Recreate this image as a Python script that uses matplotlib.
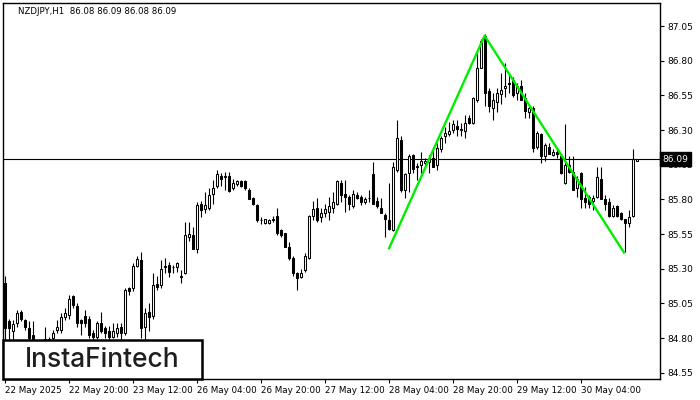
import matplotlib
matplotlib.use("Agg")
import matplotlib.pyplot as plt
from matplotlib.patches import Rectangle
from matplotlib.transforms import blended_transform_factory
import numpy as np

title_text = "NZDJPY,H1  86.08 86.09 86.08 86.09"

opens = [85.20, 84.92, 84.85, 84.91, 84.99, 84.93, 84.87, 84.82, 84.75, 84.73,
         84.71, 84.77, 84.80, 84.86, 84.86, 84.95, 84.97, 85.10, 85.03, 84.93,
         84.96, 84.94, 84.84, 84.81, 84.91, 84.87, 84.85, 84.81, 84.84, 84.88,
         84.84, 85.16, 85.16, 85.32, 85.36, 84.88, 84.99, 84.96, 85.19, 85.18,
         85.32, 85.33, 85.31, 85.31, 85.25, 85.27, 85.53, 85.54, 85.44, 85.77,
         85.73, 85.74, 85.84, 85.90, 85.97, 85.96, 85.97, 85.88, 85.91, 85.93,
         85.93, 85.87, 85.81, 85.76, 85.65, 85.63, 85.63, 85.65, 85.68, 85.58,
         85.56, 85.46, 85.38, 85.27, 85.24, 85.29, 85.38, 85.68, 85.74, 85.67,
         85.70, 85.71, 85.74, 85.77, 85.92, 85.84, 85.82, 85.75, 85.83, 85.82,
         85.78, 85.81, 85.98, 85.79, 85.74, 85.69, 85.65, 85.58, 86.01, 86.23,
         85.87, 85.99, 86.12, 86.04, 86.05, 86.06, 86.07, 86.10, 86.05, 86.16,
         86.26, 86.27, 86.30, 86.33, 86.30, 86.29, 86.39, 86.35, 86.52, 86.75,
         86.98, 86.58, 86.46, 86.50, 86.56, 86.60, 86.64, 86.66, 86.57, 86.62,
         86.53, 86.43, 86.46, 86.18, 86.27, 86.11, 86.18, 86.12, 86.14, 86.11,
         85.92, 86.05, 86.00, 85.88, 85.99, 85.81, 85.82, 85.79, 85.82, 85.95,
         85.80, 85.78, 85.68, 85.75, 85.70, 85.66, 85.63, 85.68, 86.08]

highs = [85.25, 84.94, 84.93, 85.00, 85.00, 84.94, 84.92, 84.92, 84.77, 84.78,
         84.88, 84.81, 84.86, 84.93, 84.98, 85.02, 85.11, 85.11, 85.05, 84.94,
         85.00, 84.96, 84.86, 84.92, 84.99, 84.89, 84.89, 84.91, 84.91, 84.91,
         85.16, 85.17, 85.34, 85.39, 85.42, 85.02, 85.05, 85.27, 85.25, 85.36,
         85.38, 85.35, 85.33, 85.35, 85.29, 85.64, 85.64, 85.60, 85.78, 85.79,
         85.85, 85.88, 85.94, 86.01, 85.99, 86.00, 86.00, 85.95, 85.94, 85.94,
         85.94, 85.88, 85.82, 85.77, 85.67, 85.66, 85.66, 85.68, 85.74, 85.59,
         85.56, 85.49, 85.39, 85.28, 85.30, 85.41, 85.69, 85.79, 85.81, 85.74,
         85.77, 85.82, 85.85, 85.94, 85.94, 85.94, 85.83, 85.87, 85.85, 85.83,
         85.82, 85.87, 86.07, 85.82, 85.81, 85.70, 85.92, 86.07, 86.37, 86.26,
         85.99, 86.13, 86.13, 86.06, 86.14, 86.10, 86.12, 86.18, 86.21, 86.26,
         86.32, 86.36, 86.37, 86.37, 86.35, 86.41, 86.41, 86.54, 86.88, 86.96,
         86.99, 86.60, 86.57, 86.60, 86.71, 86.78, 86.71, 86.68, 86.64, 86.66,
         86.57, 86.48, 86.47, 86.29, 86.28, 86.21, 86.21, 86.16, 86.17, 86.13,
         86.34, 86.11, 86.11, 85.97, 86.00, 85.89, 85.83, 85.83, 86.03, 86.03,
         85.83, 85.81, 85.76, 85.76, 85.71, 85.66, 85.72, 86.16, 86.09]

lows = [84.75, 84.75, 84.79, 84.88, 84.92, 84.86, 84.75, 84.71, 84.68, 84.70,
        84.68, 84.73, 84.77, 84.84, 84.84, 84.93, 84.94, 85.02, 84.88, 84.82,
        84.88, 84.80, 84.79, 84.79, 84.84, 84.80, 84.79, 84.80, 84.81, 84.79,
        84.82, 85.11, 85.14, 85.31, 84.80, 84.79, 84.85, 84.94, 85.15, 85.16,
        85.27, 85.24, 85.27, 85.28, 85.20, 85.26, 85.50, 85.44, 85.41, 85.67,
        85.70, 85.72, 85.77, 85.88, 85.90, 85.87, 85.85, 85.87, 85.90, 85.89,
        85.87, 85.80, 85.76, 85.64, 85.62, 85.62, 85.62, 85.64, 85.54, 85.53,
        85.46, 85.36, 85.25, 85.15, 85.23, 85.28, 85.37, 85.65, 85.64, 85.64,
        85.67, 85.65, 85.70, 85.76, 85.78, 85.71, 85.72, 85.74, 85.80, 85.76,
        85.77, 85.78, 85.77, 85.74, 85.70, 85.53, 85.58, 85.57, 86.00, 85.85,
        85.81, 85.85, 85.99, 85.94, 85.99, 86.05, 85.99, 86.03, 86.01, 86.14,
        86.21, 86.26, 86.28, 86.26, 86.26, 86.24, 86.34, 86.34, 86.50, 86.75,
        86.47, 86.43, 86.37, 86.43, 86.49, 86.54, 86.57, 86.54, 86.52, 86.52,
        86.39, 86.39, 86.14, 86.16, 86.06, 86.08, 86.13, 86.11, 86.10, 85.98,
        85.91, 85.99, 85.87, 85.82, 85.74, 85.74, 85.74, 85.72, 85.81, 85.80,
        85.72, 85.67, 85.67, 85.67, 85.65, 85.42, 85.60, 85.67, 86.08]

closes = [84.87, 84.87, 84.90, 84.98, 84.94, 84.88, 84.80, 84.75, 84.73, 84.76,
          84.79, 84.79, 84.84, 84.88, 84.95, 84.98, 85.08, 85.04, 84.91, 84.91,
          84.91, 84.82, 84.81, 84.91, 84.85, 84.84, 84.81, 84.85, 84.87, 84.84,
          85.15, 85.14, 85.32, 85.37, 84.87, 84.98, 84.95, 85.18, 85.17, 85.30,
          85.31, 85.28, 85.31, 85.34, 85.24, 85.54, 85.55, 85.44, 85.76, 85.72,
          85.76, 85.83, 85.88, 85.98, 85.95, 85.97, 85.86, 85.92, 85.93, 85.90,
          85.88, 85.80, 85.77, 85.65, 85.65, 85.66, 85.65, 85.66, 85.56, 85.54,
          85.46, 85.38, 85.27, 85.23, 85.27, 85.39, 85.68, 85.73, 85.65, 85.70,
          85.73, 85.75, 85.78, 85.93, 85.83, 85.82, 85.77, 85.84, 85.81, 85.78,
          85.80, 85.81, 85.77, 85.75, 85.70, 85.66, 85.59, 86.03, 86.24, 85.87,
          85.98, 86.11, 86.02, 86.03, 86.08, 86.08, 86.10, 86.03, 86.17, 86.24,
          86.28, 86.29, 86.34, 86.31, 86.31, 86.35, 86.35, 86.53, 86.75, 86.94,
          86.57, 86.47, 86.52, 86.57, 86.59, 86.62, 86.63, 86.55, 86.62, 86.52,
          86.44, 86.46, 86.17, 86.28, 86.11, 86.19, 86.13, 86.14, 86.13, 85.99,
          86.05, 86.00, 85.87, 85.95, 85.80, 85.78, 85.77, 85.81, 85.96, 85.80,
          85.77, 85.68, 85.74, 85.68, 85.66, 85.63, 85.67, 86.09, 86.09]

x_labels = ["22 May 2025", "22 May 20:00", "23 May 12:00", "26 May 04:00",
            "26 May 20:00", "27 May 12:00", "28 May 04:00", "28 May 20:00",
            "29 May 12:00", "30 May 04:00"]
bars_per_label = 16
y_ticks = [84.55, 84.80, 85.05, 85.30, 85.55, 85.80, 86.05, 86.30, 86.55, 86.80, 87.05]
current_price = 86.09
pattern_idx = [96, 120, 155]
pattern_price = [85.44, 86.98, 85.41]

W, H = 700, 400
fig = plt.figure(figsize=(W / 100, H / 100), dpi=100)
fig.patch.set_facecolor("white")
ax = fig.add_axes([3 / W, 21 / H, 657 / W, 376 / H])
ax.set_facecolor("white")

o = np.array(opens)
c = np.array(closes)
hi = np.maximum(np.array(highs), np.maximum(o, c))
lo = np.minimum(np.array(lows), np.minimum(o, c))
x = np.arange(len(o))

ax.vlines(x, lo, hi, color="black", lw=0.8, zorder=2)
bottom = np.minimum(o, c)
height = np.maximum(np.abs(c - o), 0.003)
up = c >= o
ax.bar(x[up], height[up], bottom=bottom[up], width=0.55, facecolor="white",
       edgecolor="black", linewidth=0.75, zorder=3)
ax.bar(x[~up], height[~up], bottom=bottom[~up], width=0.55, facecolor="black",
       edgecolor="black", linewidth=0.75, zorder=3)

ax.axhline(current_price, color="black", lw=0.8, zorder=2.5)
ax.plot(pattern_idx, pattern_price, color="#00ee00", lw=1.7, zorder=5,
        solid_capstyle="butt")

ax.set_xlim(-0.4, -0.4 + 657 / 4)
ax.set_ylim(84.505, 87.216)

ax.yaxis.tick_right()
ax.set_yticks(y_ticks)
ax.set_yticklabels([f"{v:.2f}" for v in y_ticks])
ax.set_xticks(np.arange(len(x_labels)) * bars_per_label)
ax.set_xticklabels(x_labels, ha="left")
ax.tick_params(axis="both", direction="out", length=3, width=0.8,
               labelsize=6.5, colors="black", pad=2)
ax.tick_params(axis="x", labelsize=6.3)
for s in ax.spines.values():
    s.set_color("black")
    s.set_linewidth(1.0)

tr = blended_transform_factory(ax.transAxes, ax.transData)
ax.text(1.004, current_price, f"{current_price:.2f}", transform=tr, color="white",
        fontsize=6.5, va="center", ha="left", zorder=10,
        bbox=dict(boxstyle="square,pad=0.3", fc="black", ec="black"))

fig.text(18 / W, 1 - 12 / H, title_text, fontsize=6.2, va="center", ha="left",
         color="black")

logo = Rectangle((3 / W, 21 / H), 199 / W, 39 / H, transform=fig.transFigure,
                 facecolor="white", edgecolor="black", linewidth=1.8, zorder=20)
fig.patches.append(logo)
fig.text(102 / W, 1 - 360 / H, "InstaFintech", fontsize=19, fontfamily="Inter",
         fontweight="medium", color="#1e1e1e", ha="center", va="center", zorder=21)

fig.savefig("out.png", dpi=100)
